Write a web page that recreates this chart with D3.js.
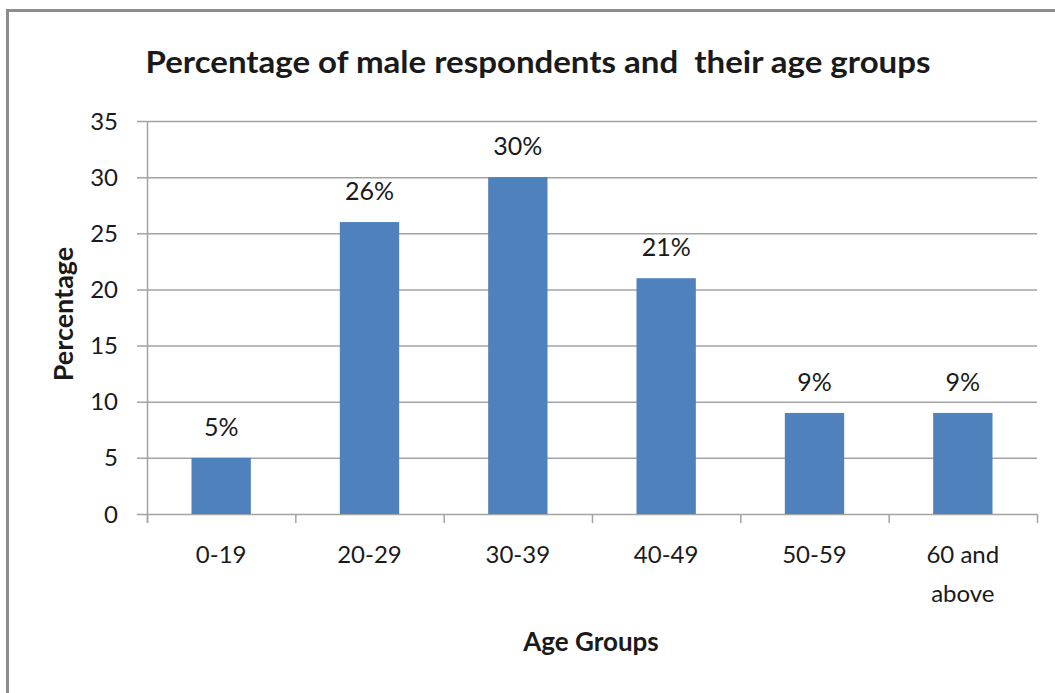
<!DOCTYPE html>
<html>
<head>
<meta charset="utf-8">
<script src="https://cdn.jsdelivr.net/npm/d3@7"></script>
<style>
  html, body { margin: 0; padding: 0; background: #fff; }
  svg { display: block; }
  text { font-family: Lato, "Liberation Sans", sans-serif; fill: #1a1a1a; }
</style>
</head>
<body>
<svg id="chart" width="1055" height="693"></svg>
<script>
// Age groups and share of male respondents (%)
const categories = ["0-19", "20-29", "30-39", "40-49", "50-59", "60 and above"];
const values = [5, 26, 30, 21, 9, 9];
const yTicks = [0, 5, 10, 15, 20, 25, 30, 35];
const titleText = "Percentage of male respondents and  their age groups";
const xTitle = "Age Groups";
const yTitle = "Percentage";

const svg = d3.select("#chart");
const W = 1055, H = 693;
const plot = { left: 147, right: 1037, top: 121, bottom: 514 };

// frame (top and left edges)
svg.append("line").attr("x1", 7.5).attr("x2", W).attr("y1", 10.5).attr("y2", 10.5)
  .attr("stroke", "#8c8c8c").attr("stroke-width", 3);
svg.append("line").attr("x1", 7.5).attr("x2", 7.5).attr("y1", 9).attr("y2", H)
  .attr("stroke", "#8c8c8c").attr("stroke-width", 3);

const x = d3.scaleBand().domain(categories)
  .range([plot.left, plot.right]).paddingInner(0.6).paddingOuter(0.3);
const y = d3.scaleLinear().domain([0, 35]).range([plot.bottom, plot.top]);

const grid = "#a3a3a3";

// horizontal gridlines with tick stubs
svg.append("g").selectAll("line").data(yTicks).join("line")
  .attr("x1", plot.left - 10).attr("x2", plot.right)
  .attr("y1", d => y(d) + 0.5).attr("y2", d => y(d) + 0.5)
  .attr("stroke", grid).attr("stroke-width", 1.5);

// y axis tick labels
svg.append("g").selectAll("text").data(yTicks).join("text")
  .attr("x", 118).attr("y", d => y(d) + 8.5)
  .attr("text-anchor", "end").attr("font-size", 24)
  .text(d => d);

// y axis line
svg.append("line").attr("x1", plot.left + 0.5).attr("x2", plot.left + 0.5)
  .attr("y1", plot.top).attr("y2", plot.bottom + 9)
  .attr("stroke", grid).attr("stroke-width", 1.5);

// x axis category boundary ticks
const step = x.step();
const bounds = d3.range(categories.length + 1).map(i => plot.left + i * step);
svg.append("g").selectAll("line").data(bounds).join("line")
  .attr("x1", d => d + 0.5).attr("x2", d => d + 0.5)
  .attr("y1", plot.bottom).attr("y2", plot.bottom + 9)
  .attr("stroke", grid).attr("stroke-width", 1.5);

// bars
svg.append("g").selectAll("rect").data(values).join("rect")
  .attr("x", (d, i) => x(categories[i]))
  .attr("y", d => y(d))
  .attr("width", x.bandwidth())
  .attr("height", d => y(0) - y(d))
  .attr("fill", "#4f81bd");

// value labels
svg.append("g").selectAll("text").data(values).join("text")
  .attr("x", (d, i) => x(categories[i]) + x.bandwidth() / 2)
  .attr("y", d => y(d) - 22)
  .attr("text-anchor", "middle").attr("font-size", 25)
  .text(d => d + "%");

// category labels (wrapped at two words max per line)
svg.append("g").selectAll("text").data(categories).join("text")
  .attr("text-anchor", "middle").attr("font-size", 24)
  .each(function (c) {
    const cx = x(c) + x.bandwidth() / 2;
    const words = c.split(" ");
    const lines = words.length > 2 ? [words.slice(0, 2).join(" "), words.slice(2).join(" ")] : [c];
    d3.select(this).selectAll("tspan").data(lines).join("tspan")
      .attr("x", cx).attr("y", (l, i) => 563 + i * 39).text(l => l);
  });

// chart title
svg.append("text").attr("x", 538).attr("y", 73)
  .attr("text-anchor", "middle").attr("font-size", 31).attr("font-weight", "bold")
  .attr("textLength", 785).attr("lengthAdjust", "spacingAndGlyphs")
  .style("white-space", "pre")
  .text(titleText);

// axis titles
svg.append("text").attr("x", 591).attr("y", 651)
  .attr("text-anchor", "middle").attr("font-size", 26).attr("font-weight", "bold")
  .text(xTitle);

svg.append("text").attr("transform", "translate(73,314) rotate(-90)")
  .attr("text-anchor", "middle").attr("font-size", 27).attr("font-weight", "bold")
  .text(yTitle);
</script>
</body>
</html>
